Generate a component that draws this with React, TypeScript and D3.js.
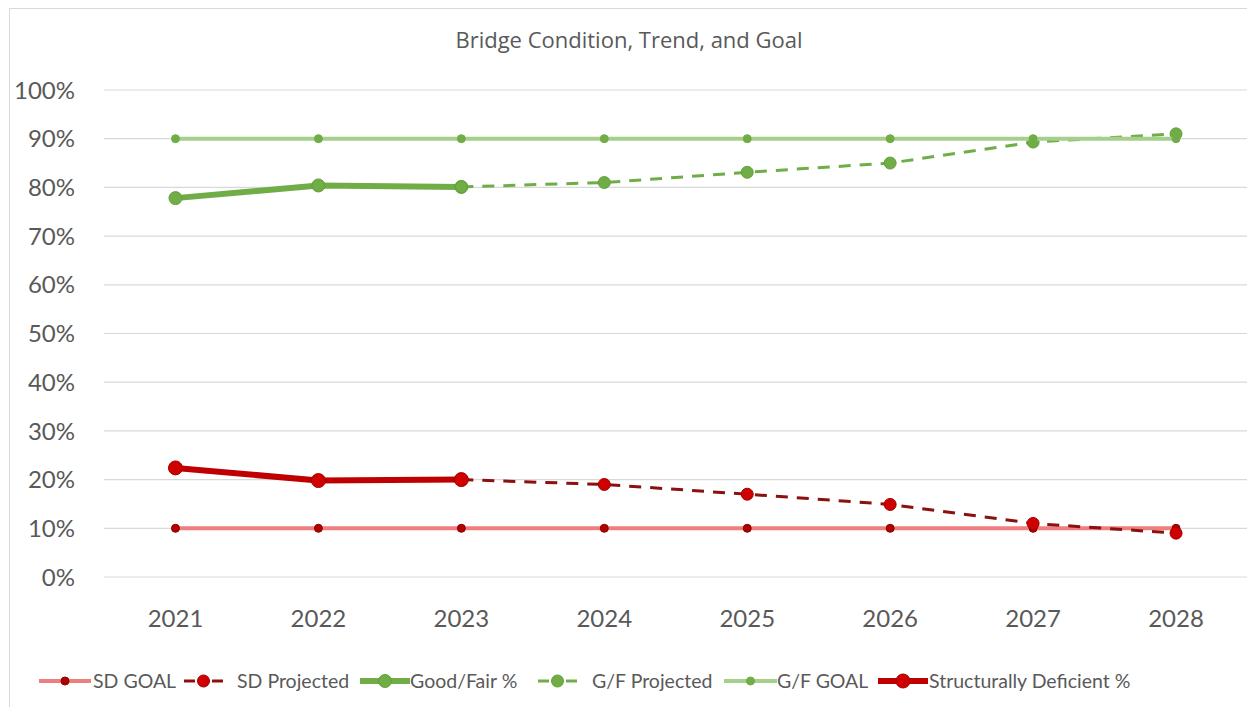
import React from "react";
import * as d3 from "d3";

// Categories and series (percent values)
const years = ["2021", "2022", "2023", "2024", "2025", "2026", "2027", "2028"];
const sdGoal = [10, 10, 10, 10, 10, 10, 10, 10];
const sdProjected: (number | null)[] = [null, null, 20.0, 19.0, 17.0, 14.9, 11.0, 9.0];
const goodFair: (number | null)[] = [77.8, 80.4, 80.1, null, null, null, null, null];
const gfProjected: (number | null)[] = [null, null, 80.1, 81.0, 83.1, 85.0, 89.3, 91.0];
const gfGoal = [90, 90, 90, 90, 90, 90, 90, 90];
const structDeficient: (number | null)[] = [22.4, 19.8, 20.0, null, null, null, null, null];
const yTicks = [0, 10, 20, 30, 40, 50, 60, 70, 80, 90, 100];

const W = 1247;
const H = 707;
const FONT = "Lato, 'Open Sans', sans-serif";

interface Series {
  name: string;
  values: (number | null)[];
  stroke: string;
  width: number;
  dash?: string;
  marker: string;
  markerStroke: string;
  r: number;
}

const series: Series[] = [
  { name: "SD GOAL", values: sdGoal, stroke: "#ef7f7f", width: 4, marker: "#b00000", markerStroke: "#8b0000", r: 4 },
  { name: "SD Projected", values: sdProjected, stroke: "#8b1010", width: 3, dash: "12,9", marker: "#d00000", markerStroke: "#a00000", r: 6 },
  { name: "Good/Fair %", values: goodFair, stroke: "#70ad47", width: 6, marker: "#70ad47", markerStroke: "#62a03a", r: 6.5 },
  { name: "G/F Projected", values: gfProjected, stroke: "#70ad47", width: 3, dash: "12,9", marker: "#70ad47", markerStroke: "#62a03a", r: 6 },
  { name: "G/F GOAL", values: gfGoal, stroke: "#a5d08c", width: 4, marker: "#70ad47", markerStroke: "#70ad47", r: 4 },
  { name: "Structurally Deficient %", values: structDeficient, stroke: "#c00000", width: 6, marker: "#d00000", markerStroke: "#a00000", r: 7 },
];

// Legend swatch start/end and text start for each series
const legendSwatchX = [
  [39, 91],
  [184, 223],
  [360, 410],
  [538, 577],
  [724, 777],
  [878, 928],
];
const legendTextX = [93, 237, 410, 592, 777, 929];

export default function App() {
  const x = d3.scaleBand<string>().domain(years).range([104, 1247.5]);
  const y = d3.scaleLinear().domain([0, 100]).range([577, 90]);
  const cx = (yr: string) => (x(yr) as number) + x.bandwidth() / 2;

  const line = d3
    .line<{ yr: string; v: number | null }>()
    .defined((d) => d.v !== null)
    .x((d) => cx(d.yr))
    .y((d) => y(d.v as number));

  const legendY = 681;

  return (
    <svg
      width={W}
      height={H}
      style={{ position: "absolute", left: 0, top: 0, background: "#fff" }}
      fontFamily={FONT}
    >
      <rect x={9.5} y={8.5} width={1260} height={720} fill="#fff" stroke="#d9d9d9" strokeWidth={1} />
      <text x={629} y={40} dy="0.35em" textAnchor="middle" fontSize={22} fill="#595959" fontFamily="'Open Sans', sans-serif">
        Bridge Condition, Trend, and Goal
      </text>

      {/* gridlines and y labels */}
      {yTicks.map((t) => (
        <g key={t}>
          <line x1={104} x2={1247} y1={y(t)} y2={y(t)} stroke="#d9d9d9" strokeWidth={1.2} />
          <text x={75} y={y(t)} dy="0.36em" textAnchor="end" fontSize={24} fill="#595959">
            {t}%
          </text>
        </g>
      ))}

      {/* x labels */}
      {years.map((yr) => (
        <text key={yr} x={cx(yr)} y={618} dy="0.36em" textAnchor="middle" fontSize={24} fill="#595959">
          {yr}
        </text>
      ))}

      {/* series */}
      {series.map((s) => {
        const pts = years.map((yr, i) => ({ yr, v: s.values[i] }));
        return (
          <g key={s.name}>
            <path
              d={line(pts) || ""}
              fill="none"
              stroke={s.stroke}
              strokeWidth={s.width}
              strokeDasharray={s.dash}
              strokeLinejoin="round"
            />
            {pts
              .filter((p) => p.v !== null)
              .map((p) => (
                <circle
                  key={p.yr}
                  cx={cx(p.yr)}
                  cy={y(p.v as number)}
                  r={s.r}
                  fill={s.marker}
                  stroke={s.markerStroke}
                  strokeWidth={1}
                />
              ))}
          </g>
        );
      })}

      {/* legend */}
      {series.map((s, i) => {
        const [x1, x2] = legendSwatchX[i];
        const mid = (x1 + x2) / 2;
        return (
          <g key={s.name}>
            {s.dash ? (
              <>
                <line x1={x1} x2={x1 + 11} y1={legendY} y2={legendY} stroke={s.stroke} strokeWidth={s.width} />
                <line x1={x2 - 11} x2={x2} y1={legendY} y2={legendY} stroke={s.stroke} strokeWidth={s.width} />
              </>
            ) : (
              <line x1={x1} x2={x2} y1={legendY} y2={legendY} stroke={s.stroke} strokeWidth={s.width} />
            )}
            <circle cx={mid} cy={legendY} r={s.r} fill={s.marker} stroke={s.markerStroke} strokeWidth={1} />
            <text x={legendTextX[i]} y={legendY} dy="0.35em" fontSize={19.5} fill="#595959">
              {s.name}
            </text>
          </g>
        );
      })}
    </svg>
  );
}
